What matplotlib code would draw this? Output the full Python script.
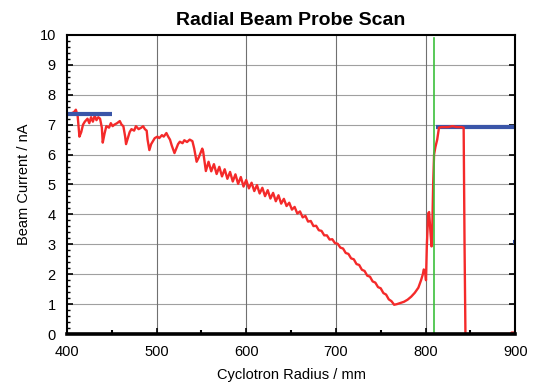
import numpy as np
import matplotlib
matplotlib.use("Agg")
import matplotlib.pyplot as plt
from matplotlib.ticker import MultipleLocator

plt.rcParams['font.family'] = ['Liberation Sans', 'DejaVu Sans']

# probe current trace (radius in mm, current in nA)
probe_r = [403, 408, 410, 412, 414, 416, 418, 420, 423, 425, 427, 429, 431, 433, 435, 437,
           439, 440, 442, 444, 447, 449, 451, 453, 456, 459, 461, 463, 465, 466, 468, 470,
           472, 475, 477, 480, 483, 485, 487, 489, 490, 492, 494, 496, 498, 501, 503, 506,
           508, 511, 513, 515, 517, 520, 522, 524, 526, 529, 531, 534, 537, 540, 542, 544.7,
           547, 549, 551, 552,
           555, 558, 561, 564, 567, 570, 573, 576, 579, 582, 585, 588, 591, 594, 597, 600,
           603, 606, 609, 612, 615, 618, 621, 624, 627, 630, 633, 636, 639, 642,
           645, 648, 651, 654, 657, 660, 663, 666, 669, 672, 675, 678, 681,
           684, 687, 690, 693, 696, 699, 702, 705, 708, 711, 714, 717, 720, 723, 726, 729,
           732, 735, 738, 741, 744, 747, 750, 753, 756, 759, 762, 765,
           768, 772, 776, 780, 784, 788, 792, 795, 797, 798, 799.5, 800.5, 801.5, 803, 804,
           805.5, 806.7, 807.5, 808.5, 809.5, 811, 813, 815, 818, 825, 830, 835, 840, 842.5,
           843.5, 844.5, 870, 895, 896, 900]
probe_i = [7.35, 7.42, 7.50, 7.30, 6.60, 6.75, 7.00, 7.10, 7.20, 7.05, 7.25, 7.10, 7.30, 7.15, 7.25, 7.20,
           6.90, 6.40, 6.70, 6.95, 6.90, 7.05, 6.95, 7.00, 7.05, 7.12, 7.00, 6.95, 6.60, 6.35, 6.55, 6.75,
           6.85, 6.80, 6.95, 6.85, 6.90, 6.95, 6.85, 6.80, 6.50, 6.15, 6.35, 6.45, 6.55, 6.60, 6.55, 6.65,
           6.60, 6.72, 6.60, 6.50, 6.30, 6.05, 6.20, 6.35, 6.43, 6.38, 6.48, 6.42, 6.50, 6.45, 6.20, 5.76,
           5.90, 6.05, 6.20, 6.10,
           5.45, 5.76, 5.44, 5.68, 5.35, 5.59, 5.27, 5.51, 5.19, 5.42, 5.10, 5.34, 5.02, 5.25, 4.93, 5.15,
           4.87, 5.06, 4.78, 4.98, 4.70, 4.89, 4.61, 4.81, 4.53, 4.72, 4.44, 4.64, 4.36, 4.52,
           4.28, 4.39, 4.16, 4.25, 4.03, 4.10, 3.90, 3.95, 3.76, 3.78, 3.61, 3.62, 3.47,
           3.45, 3.30, 3.30, 3.16, 3.17, 3.04, 3.02, 2.89, 2.86, 2.71, 2.68, 2.53, 2.50, 2.34, 2.31, 2.15,
           2.11, 1.95, 1.92, 1.76, 1.72, 1.57, 1.53, 1.37, 1.32, 1.16, 1.10, 0.98,
           1.00, 1.04, 1.08, 1.15, 1.25, 1.38, 1.55, 1.80, 2.00, 2.16, 2.10, 1.80, 3.00, 4.04, 4.08,
           3.40, 2.93, 3.50, 5.00, 6.00, 6.25, 6.50, 6.90, 6.92, 6.92, 6.95, 6.92, 6.92, 6.90,
           3.00, 0.00, 0.00, 0.00, 0.05, 0.05]

# reference levels (blue)
ref_left_r = [400, 450]
ref_left_i = [7.35, 7.35]
ref_right_r = [812, 900]
ref_right_i = [6.93, 6.93]
ref_mark_r = [897, 900]
ref_mark_i = [3.07, 3.07]

# green marker radius
marker_r = 809.6

fig = plt.figure(figsize=(5.35, 3.88), dpi=100)
ax = fig.add_axes([0.125, 0.139, 0.838, 0.771])

ax.set_xlim(400, 900)
ax.set_ylim(0, 10)

for y in range(1, 10):
    ax.axhline(y, color='#a0a0a0', lw=0.8, zorder=1)
for x in [500, 600, 700, 800]:
    ax.axvline(x, color='#707070', lw=0.8, zorder=1)

# red trace sits under the spines so the zero run hides behind the x axis
ax.plot(probe_r, probe_i, color='#f42a2a', lw=1.7, zorder=2)
ax.plot(ref_left_r, ref_left_i, color='#3a55a8', lw=3.0, solid_capstyle='butt', zorder=2.2)
ax.plot(ref_right_r, ref_right_i, color='#3a55a8', lw=3.0, solid_capstyle='butt', zorder=1.8)
ax.plot(ref_mark_r, ref_mark_i, color='#3a55a8', lw=3.0, solid_capstyle='butt', zorder=1.8)
ax.plot([marker_r, marker_r], [0, 9.9], color='#3cc03c', lw=1.2, zorder=2.3)

for s in ax.spines.values():
    s.set_linewidth(1.5)
    s.set_color('black')
ax.spines['bottom'].set_linewidth(2.6)

ax.xaxis.set_major_locator(MultipleLocator(100))
ax.xaxis.set_minor_locator(MultipleLocator(50))
ax.yaxis.set_major_locator(MultipleLocator(1))
ax.yaxis.set_minor_locator(MultipleLocator(0.2))
ax.tick_params(axis='both', which='major', direction='in', length=4, width=1.2,
               labelsize=10.5, pad=8)
ax.tick_params(axis='y', which='minor', direction='in', length=2.5, width=1)
ax.tick_params(axis='x', which='minor', direction='in', length=3, width=1.5)
ax.tick_params(axis='y', which='major', right=True)

ax.set_title('Radial Beam Probe Scan', fontsize=14, fontweight='bold', pad=7)
ax.set_xlabel('Cyclotron Radius / mm', fontsize=10.5, labelpad=6)
ax.set_ylabel('Beam Current / nA', fontsize=10.5, labelpad=6)

fig.savefig('out.png', dpi=100)
